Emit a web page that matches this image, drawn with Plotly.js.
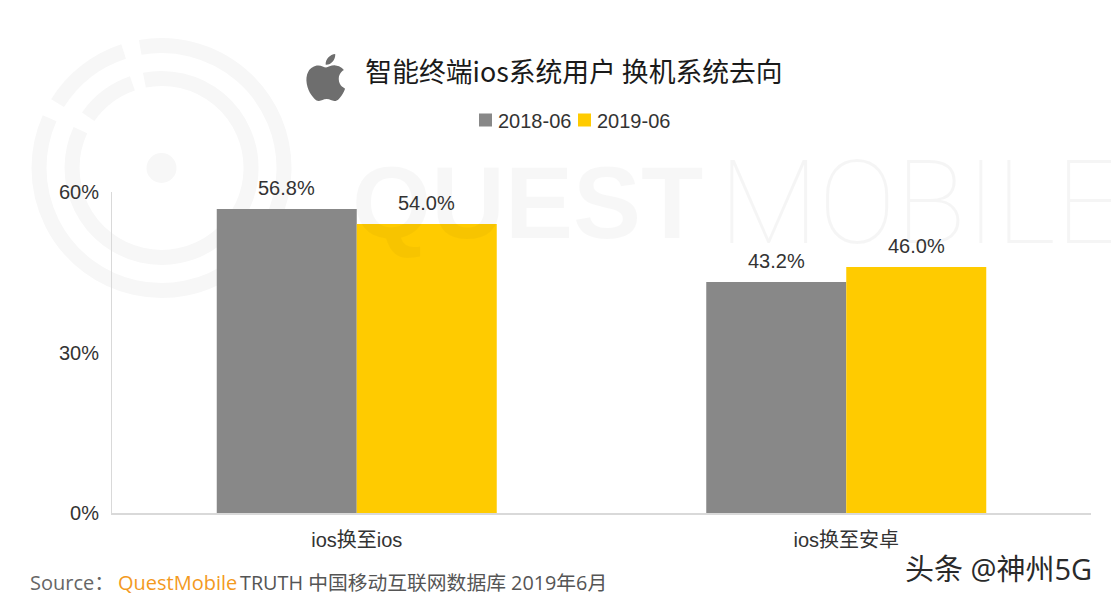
<!DOCTYPE html>
<html><head><meta charset="utf-8">
<script src="https://cdn.plot.ly/plotly-3.0.1.min.js"></script>
<style>html,body{margin:0;padding:0;background:#fff}#c{width:1111px;height:600px}</style>
</head><body><div id="c"></div>
<script>
const categories = ['ios换至ios', 'ios换至安卓'];
const values2018 = [56.8, 43.2];
const values2019 = [54.0, 46.0];
const seriesNames = ['2018-06', '2019-06'];
const seriesColors = ['#888888', '#ffcb00'];
const yTicks = [0, 30, 60];
const yTickLabels = ['0%', '30%', '60%'];

const W = 1111, H = 600;
const m = {l: 112, r: 20, t: 192, b: 87};
const pw = W - m.l - m.r, ph = H - m.t - m.b;
const px = x => (x - m.l) / pw;
const py = y => (H - m.b - y) / ph;
const latin = '"Liberation Sans","Noto Sans CJK SC",sans-serif';
const cjk = '"Open Sans","Noto Sans CJK SC",sans-serif';

function arc(r, a0, a1) {
  const c = 161.5, d = 168, p = a => {
    const t = a * Math.PI / 180;
    return (c + r * Math.sin(t)).toFixed(1) + ' ' + (d - r * Math.cos(t)).toFixed(1);
  };
  const large = ((a1 - a0 + 360) % 360) > 180 ? 1 : 0;
  return `<path d="M${p(a0)} A${r} ${r} 0 ${large} 1 ${p(a1)}" fill="none" stroke="#f7f7f7" stroke-width="15"/>`;
}
const appleD = 'M12.152 6.896c-.948 0-2.415-1.078-3.96-1.04-2.04.027-3.91 1.183-4.961 3.014-2.117 3.675-.546 9.103 1.519 12.09 1.013 1.454 2.208 3.09 3.792 3.039 1.52-.065 2.09-.987 3.935-.987 1.831 0 2.35.987 3.96.948 1.637-.026 2.676-1.48 3.676-2.948 1.156-1.688 1.636-3.325 1.662-3.415-.039-.013-3.182-1.221-3.22-4.857-.026-3.04 2.48-4.494 2.597-4.559-1.429-2.09-3.623-2.324-4.39-2.376-2-.156-3.675 1.09-4.61 1.09zM15.53 3.83c.843-1.012 1.4-2.427 1.245-3.83-1.207.052-2.662.805-3.532 1.818-.78.896-1.454 2.338-1.273 3.714 1.338.104 2.715-.688 3.559-1.701';
const svg = `<svg xmlns="http://www.w3.org/2000/svg" width="${W}" height="${H}" viewBox="0 0 ${W} ${H}">`
  + arc(122.5, -10, -66) + arc(122.5, -58, -18) + arc(89.5, -11, -65) + arc(89.5, -55, -19)
  + `<circle cx="161.5" cy="168" r="15" fill="#f7f7f7"/>`
  + `<path transform="translate(302 54) scale(1.98 1.96)" d="${appleD}" fill="#6e6e6e"/></svg>`;

const bar = (name, y, color) => ({type: 'bar', name, x: categories, y, marker: {color, line: {width: 0}}, hoverinfo: 'skip'});
const traces = [bar(seriesNames[0], values2018, seriesColors[0]), bar(seriesNames[1], values2019, seriesColors[1])];

const barOffset = 0.143;
const labelAnn = (i, v, dx) => ({
  xref: 'x', yref: 'y', x: i + dx, y: v, text: v.toFixed(1) + '%', showarrow: false,
  yanchor: 'bottom', yshift: 8, font: {family: latin, size: 20, color: '#333333'}
});
const textAnn = (x, y, text, size, color, family, xa, extra) => Object.assign({
  xref: 'paper', yref: 'paper', x: px(x), y: py(y), text, showarrow: false,
  xanchor: xa || 'left', yanchor: 'middle', font: {family, size, color}
}, extra || {});

const annotations = [
  textAnn(350, 203, 'QUEST', 102, 'rgba(0,0,0,0.03)', latin),
  textAnn(717, 203, 'MOBILE', 116, 'rgba(0,0,0,0.04)', 'Roboto,sans-serif'),
  labelAnn(0, values2018[0], -barOffset), labelAnn(0, values2019[0], barOffset),
  labelAnn(1, values2018[1], -barOffset), labelAnn(1, values2019[1], barOffset),
  textAnn(28, 582, 'Source：', 20, '#666666', cjk),
  textAnn(116, 582, 'QuestMobile', 20, '#f39a1e', cjk),
  textAnn(238, 582, 'TRUTH 中国移动互联网数据库 2019年6月', 19.8, '#555555', cjk),
  textAnn(903, 568, '头条 @神州5G', 29, '#2a2a2a', cjk)
];
annotations[0].font.weight = 700;
annotations[1].font.weight = 100;

const layout = {
  width: W, height: H, margin: m, autosize: false,
  paper_bgcolor: '#ffffff', plot_bgcolor: 'rgba(0,0,0,0)',
  title: {text: '智能终端ios系统用户 换机系统去向', xref: 'container', x: 574 / W, xanchor: 'center',
    yref: 'container', y: 1 - 73 / H, yanchor: 'middle',
    font: {family: '"Noto Sans CJK SC",sans-serif', size: 26.8, color: '#1a1a1a'}},
  barmode: 'group', bargap: 0.428, bargroupgap: 0,
  showlegend: true,
  legend: {orientation: 'h', x: px(465.5), xanchor: 'left', y: py(120), yanchor: 'middle',
    font: {family: latin, size: 20, color: '#333333'}, itemwidth: 30, bgcolor: 'rgba(0,0,0,0)'},
  xaxis: {type: 'category', showgrid: false, zeroline: false, showline: true, linecolor: '#d9d9d9', linewidth: 2,
    ticks: '', tickfont: {family: latin, size: 20, color: '#333333'}, ticklabelstandoff: 8, fixedrange: true},
  yaxis: {range: [0, 60], tickvals: yTicks, ticktext: yTickLabels, showgrid: false, zeroline: false,
    showline: true, linecolor: '#d9d9d9', linewidth: 1, ticks: '', ticklabelstandoff: 8,
    tickfont: {family: latin, size: 20, color: '#333333'}, fixedrange: true},
  images: [{source: 'data:image/svg+xml;charset=utf-8,' + encodeURIComponent(svg), xref: 'paper', yref: 'paper',
    x: px(0), y: py(0), sizex: W / pw, sizey: H / ph, xanchor: 'left', yanchor: 'top', sizing: 'stretch', layer: 'below'}],
  annotations
};
Plotly.newPlot('c', traces, layout, {displayModeBar: false, staticPlot: true}).then(gd => {
  // tighten the legend entries: slightly larger swatches, text close to them
  const entryStep = 99, textX = 32.5;
  gd.querySelectorAll('.legend .traces').forEach((g, i) => {
    const tr = g.getAttribute('transform') || '';
    const match = tr.match(/translate\(([-\d.]+)[ ,]*([-\d.]*)\)/);
    if (i === 0) g.dataset.x = match ? match[1] : 0;
    const first = gd.querySelector('.legend .traces');
    g.setAttribute('transform', `translate(${Number(first.dataset.x) + i * entryStep},${match && match[2] ? match[2] : 0})`);
    const t = g.querySelector('.legendtext');
    if (t) {
      t.setAttribute('x', textX);
      t.querySelectorAll('tspan').forEach(s => { if (s.hasAttribute('x')) s.setAttribute('x', textX); });
    }
    const p = g.querySelector('.legendundefined');
    if (p) p.setAttribute('d', 'M6.5,6.5H-6.5V-6.5H6.5Z');
  });
});
</script></body></html>
